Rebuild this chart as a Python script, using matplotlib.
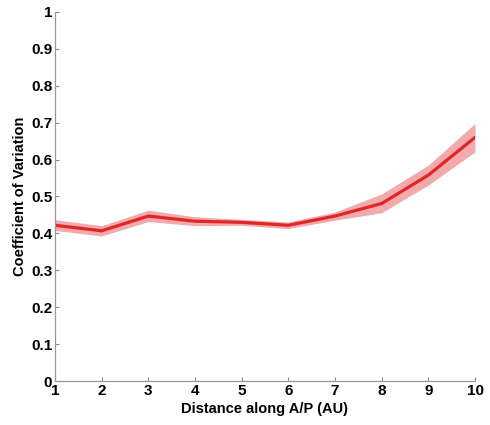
import matplotlib
matplotlib.use("Agg")
import matplotlib.pyplot as plt
import numpy as np

plt.rcParams['font.family'] = ['Liberation Sans', 'DejaVu Sans']

distance = [1, 2, 3, 4, 5, 6, 7, 8, 9, 10]
cv_mean = [0.422, 0.407, 0.447, 0.433, 0.430, 0.422, 0.447, 0.481, 0.558, 0.660]
cv_upper = [0.437, 0.421, 0.463, 0.445, 0.438, 0.431, 0.458, 0.507, 0.585, 0.698]
cv_lower = [0.408, 0.393, 0.432, 0.421, 0.422, 0.413, 0.436, 0.456, 0.531, 0.621]
yticks = [0, 0.1, 0.2, 0.3, 0.4, 0.5, 0.6, 0.7, 0.8, 0.9, 1]
ytick_labels = ['0', '0.1', '0.2', '0.3', '0.4', '0.5', '0.6', '0.7', '0.8', '0.9', '1']

fig = plt.figure(figsize=(4.9, 4.25), dpi=100)
ax = fig.add_axes([0.1122, 0.1035, 0.8572, 0.8683])

ax.fill_between(distance, cv_lower, cv_upper, color='#F2AAAA', linewidth=0)
ax.plot(distance, cv_mean, color='#E0262B', linewidth=2.3)

ax.set_xlim(1, 10)
ax.set_ylim(0, 1)
ax.set_xticks(distance)
ax.set_yticks(yticks)
ax.set_yticklabels(ytick_labels)

for s in ['top', 'right']:
    ax.spines[s].set_visible(False)
for s in ['left', 'bottom']:
    ax.spines[s].set_color('#999999')
    ax.spines[s].set_linewidth(0.9)

ax.tick_params(direction='in', length=3, width=0.8, color='#888888',
               labelsize=11, pad=2)
for lbl in ax.get_xticklabels() + ax.get_yticklabels():
    lbl.set_fontweight('bold')

ax.set_xlabel('Distance along A/P (AU)', fontsize=10.5, fontweight='bold', labelpad=3)
ax.set_ylabel('Coefficient of Variation', fontsize=10.5, fontweight='bold', labelpad=3)

fig.savefig('out.png', dpi=100)
